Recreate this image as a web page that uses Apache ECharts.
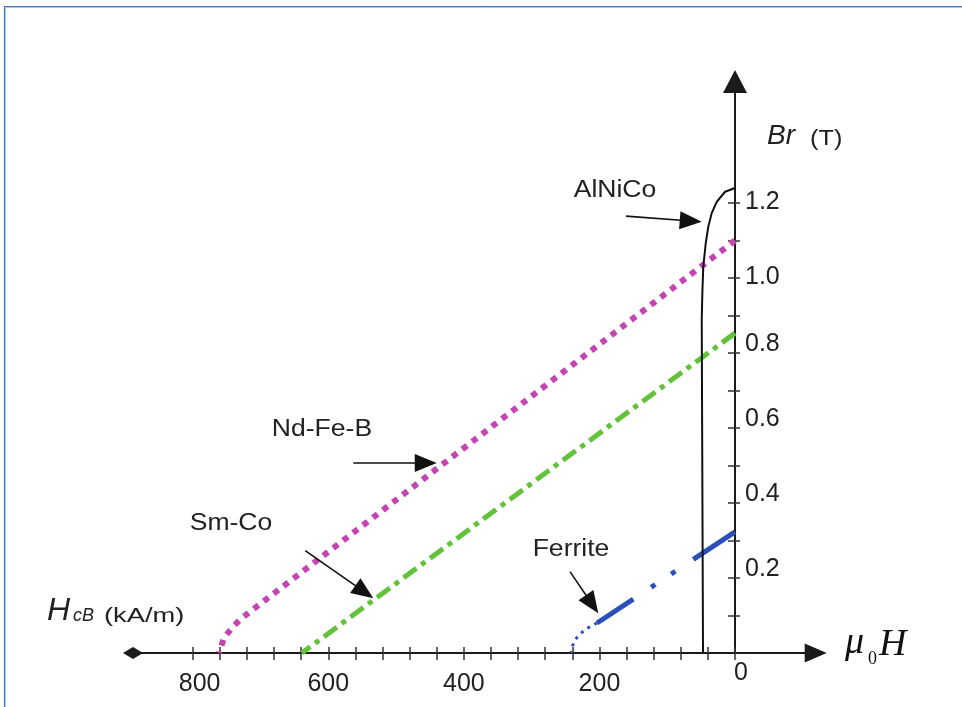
<!DOCTYPE html>
<html>
<head>
<meta charset="utf-8">
<script src="https://cdn.jsdelivr.net/npm/echarts@6/dist/echarts.min.js"></script>
<style>
html,body{margin:0;padding:0;background:#fff;}
#chart{width:962px;height:707px;}
</style>
</head>
<body>
<div id="chart"></div>
<script>
// ---- axis ticks / labels ----
const xTickValues = [0,40,80,120,160,200,240,280,320,360,400,440,480,520,560,600,640,680,720,760,800];
const xLabelValues = [0,200,400,600,800];
const yTickValues = [0.1,0.2,0.3,0.4,0.5,0.6,0.7,0.8,0.9,1.0,1.1,1.2];
const yLabelValues = [0.2,0.4,0.6,0.8,1.0,1.2];

// ---- curves: [HcB (kA/m), Br (T)] ----
const ndfeb = [[0,1.10],[714,0.112],[729,0.091],[742,0.067],[754,0.040],[761,0]];
const smco = [[0,0.853],[639,0]];
const ferriteLine = [[0,0.323],[203.5,0.080]];
const ferriteKnee = [[203.5,0.080],[216.8,0.067],[228.6,0.051],[236,0.035],[240.4,0.016],[242,0]];
const alnico = [[47.2,0],[48.5,0.6],[49.1,0.888],[48.2,0.96],[46.8,1.03],[43.2,1.093],[39.4,1.137],[34.4,1.173],[27,1.203],[14.7,1.23],[0,1.24]];

const chart = echarts.init(document.getElementById('chart'), null, {renderer: 'canvas'});
const axisColor = '#1a1a1a';
const tickColor = '#333';
const sans = '"Liberation Sans", Arial, sans-serif';
const serif = '"Liberation Serif", "Times New Roman", serif';
const yAxisOffset = -80.7; // moves the right-hand axis onto H = 0

function arrows(list) {
  return {
    silent: true,
    animation: false,
    symbol: ['none', 'triangle'],
    symbolSize: [18, 22],
    label: {show: false},
    emphasis: {disabled: true},
    lineStyle: {color: '#111', width: 1.6, type: 'solid', opacity: 1},
    data: list.map(p => [{coord: p[0]}, {coord: p[1]}])
  };
}

const option = {
  animation: false,
  backgroundColor: '#ffffff',
  grid: {left: 133, right: 146.3, top: 81.5, bottom: 54, containLabel: false, outerBoundsMode: 'none'},
  xAxis: [
    {
      type: 'value', min: -119, max: 888, inverse: true, position: 'bottom',
      axisLine: {show: true, onZero: true, symbol: ['none', 'triangle'], symbolSize: [19, 22],
                 lineStyle: {color: axisColor, width: 2}},
      axisTick: {show: true, inside: false, length: 7, customValues: xTickValues,
                 lineStyle: {color: tickColor, width: 1.5}},
      axisLabel: {
        show: true, customValues: xLabelValues, margin: 19, color: '#222',
        fontFamily: sans, fontSize: 25,
        formatter: v => v === 0 ? '{z|0}' : (v === 800 ? '{e|800}' : String(v)),
        rich: {
          z: {fontFamily: sans, fontSize: 25, color: '#222', lineHeight: 2, padding: [0, 0, 0, 12]},
          e: {fontFamily: sans, fontSize: 25, color: '#222', padding: [0, 0, 0, 14]}
        }
      },
      splitLine: {show: false}
    },
    {
      type: 'value', min: -119, max: 888, inverse: true, position: 'bottom',
      axisLine: {show: true, onZero: true, symbol: ['diamond', 'none'], symbolSize: [12, 20],
                 lineStyle: {color: axisColor, width: 2}},
      axisTick: {show: true, inside: true, length: 6, customValues: xTickValues,
                 lineStyle: {color: tickColor, width: 1.5}},
      axisLabel: {show: false},
      splitLine: {show: false}
    }
  ],
  yAxis: [
    {
      type: 'value', min: 0, max: 1.524, position: 'right', offset: yAxisOffset,
      axisLine: {show: true, onZero: false, symbol: ['none', 'triangle'], symbolSize: [24, 23],
                 lineStyle: {color: axisColor, width: 2}},
      axisTick: {show: true, inside: false, length: 5, customValues: yTickValues,
                 lineStyle: {color: tickColor, width: 1.5}},
      axisLabel: {
        show: true, customValues: yLabelValues, margin: 10, color: '#222',
        fontFamily: sans, fontSize: 25,
        formatter: v => (v <= 0.81 ? '{d|' : '{u|') + v.toFixed(1) + '}',
        rich: {
          d: {fontFamily: sans, fontSize: 25, color: '#222', padding: [0, 0, 18, 0]},
          u: {fontFamily: sans, fontSize: 25, color: '#222', padding: [0, 0, 2, 0]}
        }
      },
      splitLine: {show: false}
    },
    {
      type: 'value', min: 0, max: 1.524, position: 'right', offset: yAxisOffset,
      axisLine: {show: false, onZero: false},
      axisTick: {show: true, inside: true, length: 7, customValues: yTickValues,
                 lineStyle: {color: tickColor, width: 1.5}},
      axisLabel: {show: false},
      splitLine: {show: false}
    }
  ],
  graphic: [
    {type: 'rect', silent: true, z: 0, shape: {x: 4.5, y: 6.5, width: 1200, height: 1200},
     style: {fill: 'none', stroke: '#4677bb', lineWidth: 1.2}},
    {type: 'rect', silent: true, z: 0, shape: {x: 5.5, y: 7.5, width: 1200, height: 1200},
     style: {fill: 'none', stroke: '#aec6e8', lineWidth: 1}},
    {type: 'text', x: 615, y: 191, scaleX: 1.13, silent: true,
     style: {text: 'AlNiCo', font: '23.5px ' + sans, fill: '#222', align: 'center', verticalAlign: 'middle'}},
    {type: 'text', x: 322, y: 430, scaleX: 1.13, silent: true,
     style: {text: 'Nd-Fe-B', font: '23.5px ' + sans, fill: '#222', align: 'center', verticalAlign: 'middle'}},
    {type: 'text', x: 231, y: 524, scaleX: 1.13, silent: true,
     style: {text: 'Sm-Co', font: '23.5px ' + sans, fill: '#222', align: 'center', verticalAlign: 'middle'}},
    {type: 'text', x: 571, y: 550, scaleX: 1.13, silent: true,
     style: {text: 'Ferrite', font: '23.5px ' + sans, fill: '#222', align: 'center', verticalAlign: 'middle'}},
    {type: 'text', x: 767, y: 136, silent: true,
     style: {text: 'Br', font: 'italic 28px ' + sans, fill: '#222', align: 'left', verticalAlign: 'middle'}},
    {type: 'text', x: 810, y: 139, scaleX: 1.15, silent: true,
     style: {text: '(T)', font: '22px ' + sans, fill: '#222', align: 'left', verticalAlign: 'middle'}},
    {type: 'text', x: 47, y: 611, silent: true,
     style: {text: 'H', font: 'italic 32px ' + sans, fill: '#222', align: 'left', verticalAlign: 'middle'}},
    {type: 'text', x: 73, y: 616, silent: true,
     style: {text: 'cB', font: 'italic 18px ' + sans, fill: '#222', align: 'left', verticalAlign: 'middle'}},
    {type: 'text', x: 104, y: 616, scaleX: 1.3, silent: true,
     style: {text: '(kA/m)', font: '21px ' + sans, fill: '#222', align: 'left', verticalAlign: 'middle'}},
    {type: 'text', x: 845, y: 643, silent: true,
     style: {text: 'μ', font: 'italic 38px ' + serif, fill: '#111', align: 'left', verticalAlign: 'middle'}},
    {type: 'text', x: 868, y: 659, silent: true,
     style: {text: '0', font: '18px ' + serif, fill: '#111', align: 'left', verticalAlign: 'middle'}},
    {type: 'text', x: 879, y: 645, silent: true,
     style: {text: 'H', font: 'italic 38px ' + serif, fill: '#111', align: 'left', verticalAlign: 'middle'}}
  ],
  series: [
    {
      type: 'line', name: 'Nd-Fe-B', data: ndfeb, symbol: 'none', showSymbol: false, z: 3,
      lineStyle: {color: '#c444b3', width: 6, type: [6, 6.5], cap: 'butt'},
      emphasis: {disabled: true},
      markLine: arrows([[[563, 0.507], [456.2, 0.507]]])
    },
    {
      type: 'line', name: 'Sm-Co', data: smco, symbol: 'none', showSymbol: false, z: 3,
      lineStyle: {color: '#62c23a', width: 5, type: [16, 6, 5, 6], cap: 'butt'},
      emphasis: {disabled: true},
      markLine: arrows([[[634, 0.273], [546.8, 0.163]]])
    },
    {
      type: 'line', name: 'Ferrite', data: ferriteLine, symbol: 'none', showSymbol: false, z: 3,
      lineStyle: {color: '#2a4fb8', width: 5, type: [50, 21.5, 5, 19, 5, 21.4], cap: 'butt'},
      emphasis: {disabled: true},
      markLine: arrows([[[243.4, 0.217], [210.8, 0.130]]])
    },
    {
      type: 'line', name: 'Ferrite knee', data: ferriteKnee, symbol: 'none', showSymbol: false, z: 3,
      lineStyle: {color: '#2a4fb8', width: 3, type: [3, 5], cap: 'butt'},
      emphasis: {disabled: true}
    },
    {
      type: 'line', name: 'AlNiCo', data: alnico, symbol: 'none', showSymbol: false, z: 4,
      lineStyle: {color: '#111', width: 2, type: 'solid'},
      emphasis: {disabled: true},
      markLine: arrows([[[160.8, 1.165], [65.3, 1.152]]])
    }
  ]
};
chart.setOption(option);
</script>
</body>
</html>
